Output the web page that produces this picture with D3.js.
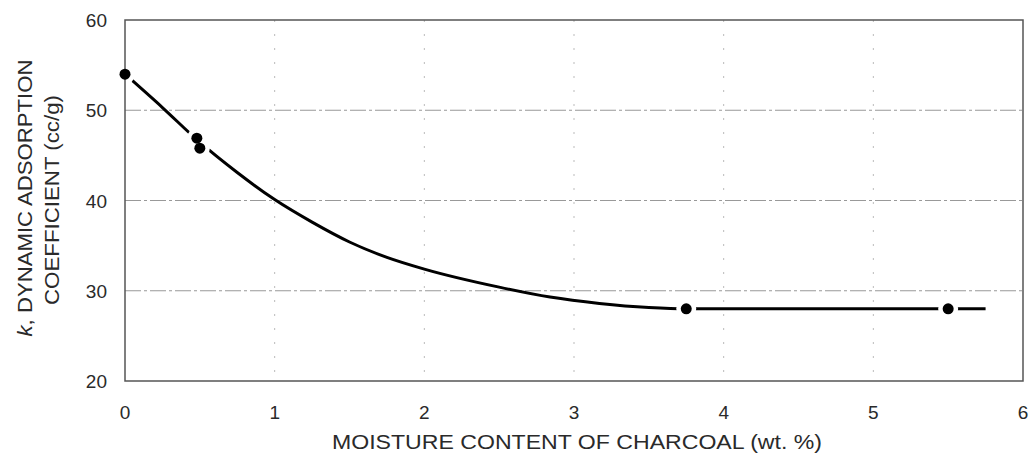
<!DOCTYPE html>
<html>
<head>
<meta charset="utf-8">
<script src="https://cdn.jsdelivr.net/npm/d3@7"></script>
<style>
  body { margin: 0; background: #fff; }
  text { font-family: "Liberation Sans", Arial, sans-serif; fill: #2a2a2a; }
</style>
</head>
<body>
<svg id="chart" width="1034" height="457"></svg>
<script>
// measured points
const pointX = [0, 0.48, 0.5, 3.75, 5.5];
const pointY = [54, 46.9, 45.8, 28, 28];

// hand-drawn fitted curve
const curveX = [0, 0.25, 0.49, 0.75, 1, 1.25, 1.5, 1.75, 2, 2.5, 2.84, 3.17, 3.5, 3.75, 5.5, 5.75];
const curveY = [54, 50.3, 46.6, 43.1, 40.1, 37.6, 35.4, 33.7, 32.4, 30.4, 29.3, 28.6, 28.15, 28, 28, 28];

const xTicks = [0, 1, 2, 3, 4, 5, 6];
const yTicks = [20, 30, 40, 50, 60];

const svg = d3.select("#chart");
const margin = { top: 20, right: 10, bottom: 76, left: 125 };
const width = 1034 - margin.left - margin.right;
const height = 457 - margin.top - margin.bottom;

const x = d3.scaleLinear().domain([0, 6]).range([margin.left, margin.left + width - 1]);
const y = d3.scaleLinear().domain([20, 60]).range([margin.top + height, margin.top]);

// grid lines (dash-dot like the drafting original)
svg.append("g")
  .selectAll("line")
  .data(yTicks.filter(d => d > 20 && d < 60))
  .enter().append("line")
  .attr("x1", x(0)).attr("x2", x(6))
  .attr("y1", d => y(d)).attr("y2", d => y(d))
  .attr("stroke", "#999")
  .attr("stroke-width", 1.1)
  .attr("stroke-dasharray", "16,3,3,3");

svg.append("g")
  .selectAll("line")
  .data(xTicks.filter(d => d > 0 && d < 6))
  .enter().append("line")
  .attr("x1", d => x(d)).attr("x2", d => x(d))
  .attr("y1", y(60)).attr("y2", y(20))
  .attr("stroke", "#bbb")
  .attr("stroke-width", 1)
  .attr("stroke-dasharray", "2,12");

// curve
const pts = curveX.map((d, i) => ({ x: d, y: curveY[i] }));
const line = d3.line()
  .x(d => x(d.x))
  .y(d => y(d.y))
  .curve(d3.curveMonotoneX);

svg.append("path")
  .datum(pts)
  .attr("fill", "none")
  .attr("stroke", "#000")
  .attr("stroke-width", 3)
  .attr("d", line);

const data = pointX.map((d, i) => ({ x: d, y: pointY[i] }));

// white gaps round the markers
svg.append("g")
  .selectAll("circle")
  .data(data)
  .enter().append("circle")
  .attr("cx", d => x(d.x))
  .attr("cy", d => y(d.y))
  .attr("r", 10)
  .attr("fill", "#fff");

// frame
svg.append("rect")
  .attr("x", x(0)).attr("y", y(60))
  .attr("width", x(6) - x(0)).attr("height", y(20) - y(60))
  .attr("fill", "none")
  .attr("stroke", "#555")
  .attr("stroke-width", 1.5);

// markers
svg.append("g")
  .selectAll("circle")
  .data(data)
  .enter().append("circle")
  .attr("cx", d => x(d.x))
  .attr("cy", d => y(d.y))
  .attr("r", 5.5)
  .attr("fill", "#000");

// tick labels
svg.append("g")
  .selectAll("text")
  .data(xTicks)
  .enter().append("text")
  .attr("x", d => x(d))
  .attr("y", 419)
  .attr("text-anchor", "middle")
  .attr("font-size", 19)
  .text(d => d);

svg.append("g")
  .selectAll("text")
  .data(yTicks)
  .enter().append("text")
  .attr("x", 107)
  .attr("y", d => y(d) + 7)
  .attr("text-anchor", "end")
  .attr("font-size", 19)
  .text(d => d);

// axis titles
svg.append("text")
  .attr("x", 577)
  .attr("y", 449)
  .attr("text-anchor", "middle")
  .attr("font-size", 20)
  .attr("textLength", 490)
  .attr("lengthAdjust", "spacingAndGlyphs")
  .text("MOISTURE CONTENT OF CHARCOAL (wt. %)");

const t1 = svg.append("text")
  .attr("transform", "translate(32,198) rotate(-90)")
  .attr("text-anchor", "middle")
  .attr("font-size", 20)
  .attr("textLength", 277)
  .attr("lengthAdjust", "spacingAndGlyphs");
t1.append("tspan").attr("font-style", "italic").text("k");
t1.append("tspan").text(", DYNAMIC ADSORPTION");

svg.append("text")
  .attr("transform", "translate(59,200) rotate(-90)")
  .attr("text-anchor", "middle")
  .attr("font-size", 20)
  .attr("textLength", 210)
  .attr("lengthAdjust", "spacingAndGlyphs")
  .text("COEFFICIENT (cc/g)");
</script>
</body>
</html>
